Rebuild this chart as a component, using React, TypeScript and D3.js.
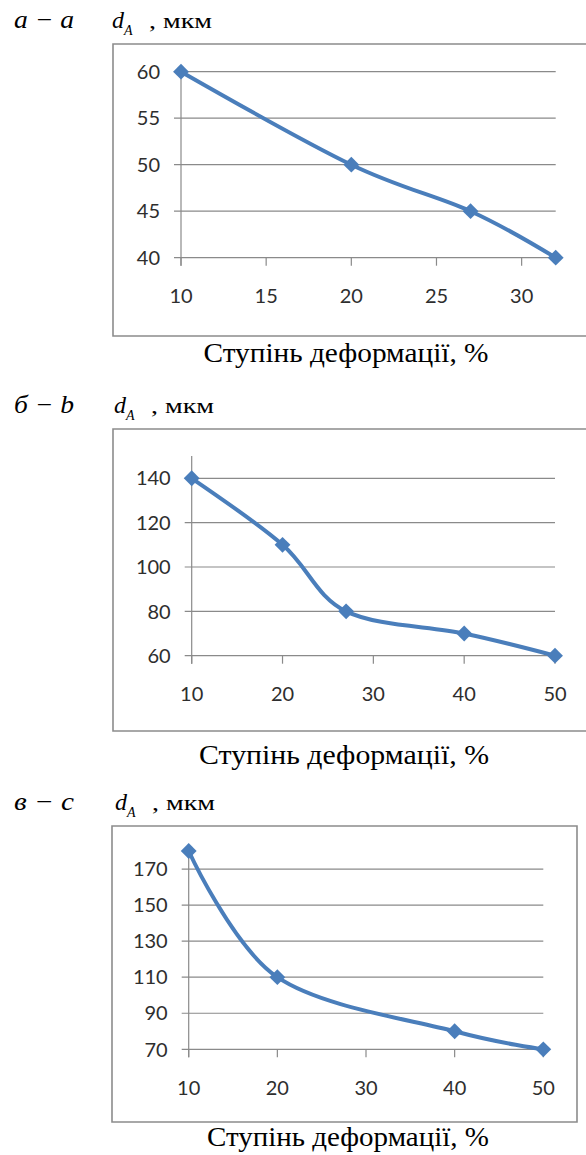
import React from "react";
import * as d3 from "d3";

// ---- data ----
const xA = [10, 20, 27, 32];
const yA = [60, 50, 45, 40];
const xTicksA = [10, 15, 20, 25, 30];
const yTicksA = [40, 45, 50, 55, 60];

const xB = [10, 20, 27, 40, 50];
const yB = [140, 110, 80, 70, 60];
const xTicksB = [10, 20, 30, 40, 50];
const yTicksB = [60, 80, 100, 120, 140];

const xC = [10, 20, 40, 50];
const yC = [180, 110, 80, 70];
const xTicksC = [10, 20, 30, 40, 50];
const yTicksC = [70, 90, 110, 130, 150, 170];

const panelLabels = ["а − a", "б − b", "в − c"];
const yTitleMain = "d";
const yTitleSub = "A";
const yTitleUnit = ", мкм";
const xTitle = "Ступінь деформації, %";

// ---- layout ----
const W = 586;
const H = 1155;
const LINE = "#4a7ebb";
const GRID = "#8a8a8a";
const FRAME = "#8c8c8c";
const TICKFONT = "Lato, 'Open Sans', sans-serif";
const SERIF = "'Liberation Serif', 'Times New Roman', serif";

type Panel = {
  xs: number[];
  ys: number[];
  xTicks: number[];
  yTicks: number[];
  xDomain: [number, number];
  yDomain: [number, number];
  xRange: [number, number];
  yRange: [number, number];
  frame: { x: number; y: number; w: number; h: number; right: boolean };
  labelY: number;
  dX: number;
  titleX: number;
  titleY: number;
  titleW: number;
  gridRight: number;
};

const panels: Panel[] = [
  {
    xs: xA, ys: yA, xTicks: xTicksA, yTicks: yTicksA,
    xDomain: [10, 32], yDomain: [40, 60],
    xRange: [181, 555.7], yRange: [257.7, 71.7],
    frame: { x: 113, y: 44, w: 490, h: 292, right: false },
    labelY: 28, dX: 112, titleX: 346, titleY: 362, titleW: 285, gridRight: 555.7,
  },
  {
    xs: xB, ys: yB, xTicks: xTicksB, yTicks: yTicksB,
    xDomain: [10, 50], yDomain: [60, 150],
    xRange: [191.7, 555], yRange: [655.7, 456.1],
    frame: { x: 113, y: 429, w: 490, h: 302, right: false },
    labelY: 413, dX: 114, titleX: 344, titleY: 764, titleW: 290, gridRight: 555,
  },
  {
    xs: xC, ys: yC, xTicks: xTicksC, yTicks: yTicksC,
    xDomain: [10, 50], yDomain: [70, 180],
    xRange: [188.7, 543.3], yRange: [1049.3, 851],
    frame: { x: 112, y: 826, w: 465, h: 296, right: true },
    labelY: 810, dX: 115, titleX: 348, titleY: 1146, titleW: 282, gridRight: 543.3,
  },
];

function ChartPanel({ p, label }: { p: Panel; label: string }) {
  const x = d3.scaleLinear().domain(p.xDomain).range(p.xRange);
  const y = d3.scaleLinear().domain(p.yDomain).range(p.yRange);
  const pts: [number, number][] = p.xs.map((v, i) => [x(v), y(p.ys[i])]);
  const line = d3.line().curve(d3.curveCatmullRom.alpha(0))(pts) || "";
  const diamond = d3.symbol().type(d3.symbolDiamond2).size(160)() || "";
  const x0 = x(p.xDomain[0]);
  const yBottom = y(p.yDomain[0]);
  const yTop = y(p.yDomain[1]);
  const f = p.frame;
  return (
    <g>
      <path
        d={
          f.right
            ? `M${f.x},${f.y}H${f.x + f.w}V${f.y + f.h}H${f.x}Z`
            : `M${f.x + f.w},${f.y}H${f.x}V${f.y + f.h}H${f.x + f.w}`
        }
        fill="white"
        stroke={FRAME}
        strokeWidth={1.6}
      />
      {p.yTicks.map((t) => (
        <line key={"g" + t} x1={x0 - 7} x2={p.gridRight} y1={y(t)} y2={y(t)} stroke={GRID} strokeWidth={1.2} />
      ))}
      <line x1={x0} x2={x0} y1={yTop} y2={yBottom + 8} stroke={GRID} strokeWidth={1.2} />
      {p.xTicks.map((t) => (
        <line key={"xt" + t} x1={x(t)} x2={x(t)} y1={yBottom} y2={yBottom + 8} stroke={GRID} strokeWidth={1.2} />
      ))}
      {p.yTicks.map((t) => (
        <text key={"yl" + t} x={x0 - 21} y={y(t)} dy="0.36em" textAnchor="end" fontFamily={TICKFONT} fontSize={20} fill="#2e2e2e">
          {t}
        </text>
      ))}
      {p.xTicks.map((t) => (
        <text key={"xl" + t} x={x(t)} y={yBottom + 38} dy="0.36em" textAnchor="middle" fontFamily={TICKFONT} fontSize={20} fill="#2e2e2e">
          {t}
        </text>
      ))}
      <path d={line} fill="none" stroke={LINE} strokeWidth={4} strokeLinejoin="round" />
      {pts.map(([px, py], i) => (
        <path key={"m" + i} d={diamond} transform={`translate(${px},${py})`} fill={LINE} />
      ))}
      <text x={14} y={p.labelY} fontFamily={SERIF} fontStyle="italic" fontSize={25} fill="#000" textLength={60} lengthAdjust="spacingAndGlyphs">
        {label}
      </text>
      <text x={p.dX} y={p.labelY} fontFamily={SERIF} fontStyle="italic" fontSize={24} fill="#000">
        {yTitleMain}
      </text>
      <text x={p.dX + 12} y={p.labelY + 7} fontFamily={SERIF} fontStyle="italic" fontSize={14} fill="#000">
        {yTitleSub}
      </text>
      <text x={p.dX + 37} y={p.labelY} fontFamily={SERIF} fontSize={20} fill="#000" textLength={63} lengthAdjust="spacingAndGlyphs">
        {yTitleUnit}
      </text>
      <text x={p.titleX} y={p.titleY} textAnchor="middle" fontFamily={SERIF} fontSize={27} fill="#000" textLength={p.titleW} lengthAdjust="spacingAndGlyphs">
        {xTitle}
      </text>
    </g>
  );
}

export default function App() {
  return (
    <svg width={W} height={H} style={{ display: "block", position: "absolute", left: 0, top: 0 }}>
      <rect width={W} height={H} fill="white" />
      {panels.map((p, i) => (
        <ChartPanel key={i} p={p} label={panelLabels[i]} />
      ))}
    </svg>
  );
}
